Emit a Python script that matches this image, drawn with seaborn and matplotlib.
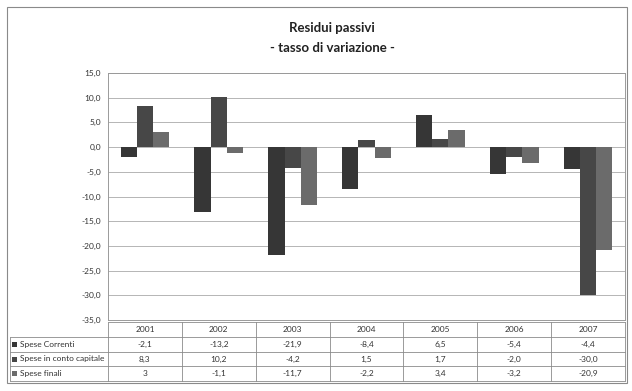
import numpy as np
import pandas as pd
import matplotlib
matplotlib.use("Agg")
import matplotlib.pyplot as plt
from matplotlib.patches import Rectangle
from matplotlib.lines import Line2D
import seaborn as sns

years = ["2001", "2002", "2003", "2004", "2005", "2006", "2007"]
series = ["Spese Correnti", "Spese in conto capitale", "Spese finali"]
correnti = [-2.1, -13.2, -21.9, -8.4, 6.5, -5.4, -4.4]
capitale = [8.3, 10.2, -4.2, 1.5, 1.7, -2.0, -30.0]
finali = [3, -1.1, -11.7, -2.2, 3.4, -3.2, -20.9]
colors = ["#363636", "#474747", "#6b6b6b"]

W, H = 632, 391
sns.set_theme(style="white")
plt.rcParams["font.family"] = ["Lato", "DejaVu Sans"]

rows = []
for name, vals in zip(series, [correnti, capitale, finali]):
    for y, v in zip(years, vals):
        rows.append({"anno": y, "serie": name, "valore": v})
df = pd.DataFrame(rows)

fig = plt.figure(figsize=(W / 100, H / 100), dpi=100)
fig.patch.set_facecolor("white")

def fx(px):
    return px / W

def fy(py):
    return 1 - py / H

# plot area in pixel coordinates
L, R, T, B = 108, 625, 73, 320
ax = fig.add_axes([fx(L), fy(B), fx(R - L), fy(T) - fy(B)])
sns.barplot(data=df, x="anno", y="valore", hue="serie", palette=colors,
            width=0.66, saturation=1, legend=False, ax=ax)
for p in ax.patches:
    p.set_edgecolor("none")
ax.set_ylim(-35, 15)
ax.set_xlim(-0.5, 6.5)
ax.set_yticks(np.arange(-35, 16, 5))
ax.set_yticklabels([f"{t:.1f}".replace(".", ",") for t in np.arange(-35, 16, 5)],
                   fontsize=6, color="#333333")
ax.tick_params(axis="y", length=0, pad=5)
ax.set_xticks([])
ax.set_xlabel("")
ax.set_ylabel("")
ax.grid(axis="y", color="#b5b5b5", linewidth=0.7)
ax.set_axisbelow(True)
for s in ax.spines.values():
    s.set_color("#9a9a9a")
    s.set_linewidth(0.7)

# title
fig.text(fx(332), fy(28), "Residui passivi", ha="center", va="center",
         fontsize=9.5, fontweight="bold", color="#222222")
fig.text(fx(332), fy(48), "- tasso di variazione -", ha="center", va="center",
         fontsize=9.5, fontweight="bold", color="#222222")

# data table
lc = "#8a8a8a"
lw = 0.6
row_y = [322, 337, 352, 366, 381]
col_w = (R - L) / len(years)
def hline(x0, x1, y):
    fig.add_artist(Line2D([fx(x0), fx(x1)], [fy(y), fy(y)], color=lc, lw=lw))
def vline(x, y0, y1):
    fig.add_artist(Line2D([fx(x), fx(x)], [fy(y0), fy(y1)], color=lc, lw=lw))

hline(L, R, row_y[0])
for y in row_y[1:]:
    hline(10, R, y)
for i in range(len(years) + 1):
    vline(L + i * col_w, row_y[0], row_y[-1])
vline(10, row_y[1], row_y[-1])

for i, yr in enumerate(years):
    fig.text(fx(L + (i + 0.5) * col_w), fy((row_y[0] + row_y[1]) / 2), yr,
             ha="center", va="center", fontsize=6, color="#333333")

def fmt(v):
    if isinstance(v, int):
        return str(v)
    return f"{v:.1f}".replace(".", ",")

for r, (name, vals, c) in enumerate(zip(series, [correnti, capitale, finali], colors)):
    yc = (row_y[r + 1] + row_y[r + 2]) / 2
    fig.add_artist(Rectangle((fx(12), fy(yc + 2.5)), fx(5), fy(yc - 2.5) - fy(yc + 2.5),
                             facecolor=c, edgecolor="none", transform=fig.transFigure))
    fig.text(fx(20), fy(yc), name, ha="left", va="center", fontsize=6, color="#333333")
    for i, v in enumerate(vals):
        fig.text(fx(L + (i + 0.5) * col_w), fy(yc), fmt(v),
                 ha="center", va="center", fontsize=6, color="#333333")

# outer chart border
fig.add_artist(Rectangle((fx(7), fy(383)), fx(620), fy(7) - fy(383), fill=False,
                         edgecolor="#8a8a8a", linewidth=0.8, transform=fig.transFigure))

fig.savefig("out.png", dpi=100)
